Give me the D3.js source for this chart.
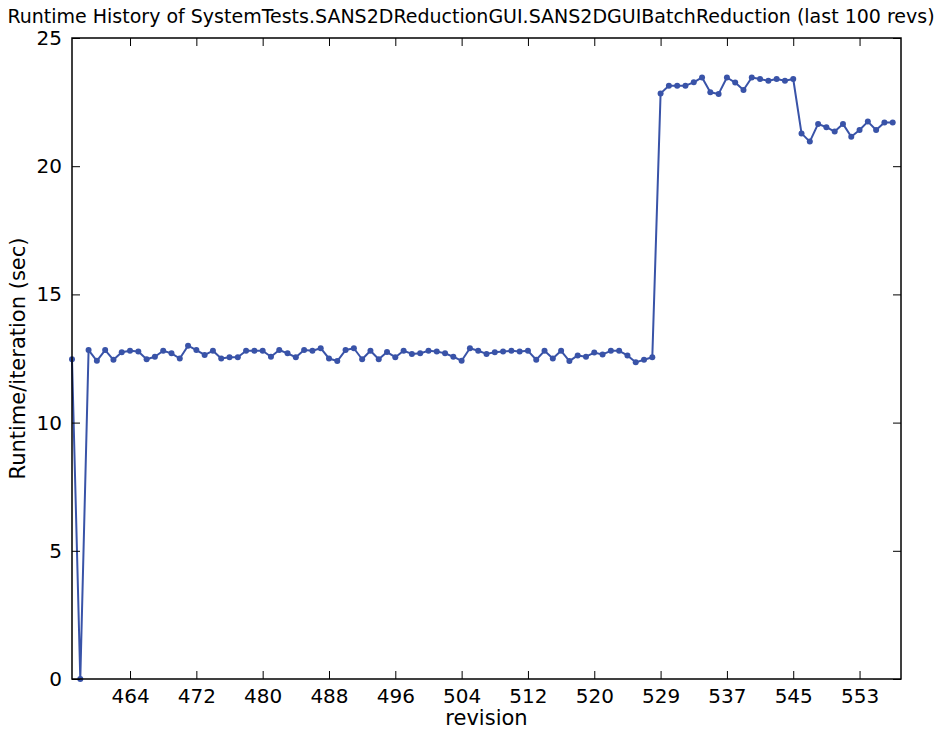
<!DOCTYPE html>
<html>
<head>
<meta charset="utf-8">
<script src="https://cdn.jsdelivr.net/npm/d3@7"></script>
<style>
  body { margin: 0; background: #fff; }
  text { font-family: "DejaVu Sans", sans-serif; }
</style>
</head>
<body>
<div id="chart"></div>
<script>
// runtime per revision, last 100 revs (index order)
var runtimes = [
  12.47, 0, 12.83, 12.41, 12.83, 12.45, 12.74, 12.8, 12.77, 12.47,
  12.57, 12.8, 12.7, 12.5, 13.0, 12.83, 12.64, 12.8, 12.5, 12.55,
  12.55, 12.8, 12.8, 12.8, 12.57, 12.83, 12.7, 12.55, 12.83, 12.8,
  12.9, 12.5, 12.4, 12.83, 12.9, 12.47, 12.8, 12.47, 12.75, 12.55,
  12.8, 12.68, 12.7, 12.8, 12.77, 12.7, 12.57, 12.41, 12.9, 12.8,
  12.68, 12.74, 12.77, 12.8, 12.77, 12.8, 12.45, 12.8, 12.5, 12.8,
  12.4, 12.62, 12.57, 12.73, 12.66, 12.8, 12.8, 12.62, 12.35, 12.45,
  12.55, 22.84, 23.14, 23.14, 23.14, 23.27, 23.46, 22.88, 22.82, 23.46,
  23.26, 22.97, 23.46, 23.4, 23.33, 23.4, 23.33, 23.4, 21.28, 20.96,
  21.65, 21.52, 21.35, 21.65, 21.15, 21.41, 21.74, 21.41, 21.7, 21.7
]
var tickIndex = [7, 15, 23, 31, 39, 47, 55, 63, 71, 79, 87, 95]
var tickLabels = ["464", "472", "480", "488", "496", "504", "512", "520", "529", "537", "545", "553"]
var yTicks = [0, 5, 10, 15, 20, 25]

var W = 941, H = 729
var margin = {top: 38, right: 40, bottom: 50, left: 72},
    width = W - margin.left - margin.right,
    height = H - margin.top - margin.bottom;

var svg = d3.select("#chart").append("svg")
    .attr("width", W)
    .attr("height", H)

var g = svg.append("g")
    .attr("transform", "translate(" + margin.left + "," + margin.top + ")")

var x = d3.scaleLinear().domain([0, 100]).range([0, width])
var y = d3.scaleLinear().domain([0, 25]).range([height, 0])

var blue = "#3953a8"

// line
g.append("path")
    .datum(runtimes)
    .attr("fill", "none")
    .attr("stroke", blue)
    .attr("stroke-width", 2)
    .attr("stroke-linejoin", "round")
    .attr("d", d3.line()
        .x(function(d, i) { return x(i) })
        .y(function(d) { return y(d) }))

// markers
g.selectAll("circle.pt")
    .data(runtimes)
    .enter()
    .append("circle")
    .attr("class", "pt")
    .attr("cx", function(d, i) { return x(i) })
    .attr("cy", function(d) { return y(d) })
    .attr("r", 3)
    .attr("fill", blue)

// axes, matplotlib style: ticks inside, on all four sides
var fmtX = function(d, i) { return tickLabels[i] }
var bottom = g.append("g")
    .attr("transform", "translate(0," + height + ")")
    .call(d3.axisBottom(x).tickValues(tickIndex).tickFormat(fmtX).tickSizeInner(-8).tickSizeOuter(0).tickPadding(10))
var top_ = g.append("g")
    .call(d3.axisTop(x).tickValues(tickIndex).tickFormat("").tickSizeInner(-8).tickSizeOuter(0))
var left = g.append("g")
    .call(d3.axisLeft(y).tickValues(yTicks).tickSizeInner(-8).tickSizeOuter(0).tickPadding(10))
var right = g.append("g")
    .attr("transform", "translate(" + width + ",0)")
    .call(d3.axisRight(y).tickValues(yTicks).tickFormat("").tickSizeInner(-8).tickSizeOuter(0))

;[bottom, top_, left, right].forEach(function(a) {
    a.select(".domain").remove()
    a.selectAll("line").attr("stroke", "#000").attr("stroke-width", 1)
    a.selectAll("text").attr("fill", "#000").style("font-size", "20px")
})

// frame
g.append("rect")
    .attr("x", 0).attr("y", 0)
    .attr("width", width).attr("height", height)
    .attr("fill", "none")
    .attr("stroke", "#000")
    .attr("stroke-width", 1.5)

// title + labels
svg.append("text")
    .attr("x", 471)
    .attr("y", 23)
    .attr("text-anchor", "middle")
    .style("font-size", "19px")
    .text("Runtime History of SystemTests.SANS2DReductionGUI.SANS2DGUIBatchReduction (last 100 revs)")

svg.append("text")
    .attr("x", margin.left + width / 2)
    .attr("y", 725)
    .attr("text-anchor", "middle")
    .style("font-size", "21px")
    .text("revision")

svg.append("text")
    .attr("transform", "translate(25," + (margin.top + height / 2) + ") rotate(-90)")
    .attr("text-anchor", "middle")
    .style("font-size", "21px")
    .text("Runtime/iteration (sec)")
</script>
</body>
</html>
